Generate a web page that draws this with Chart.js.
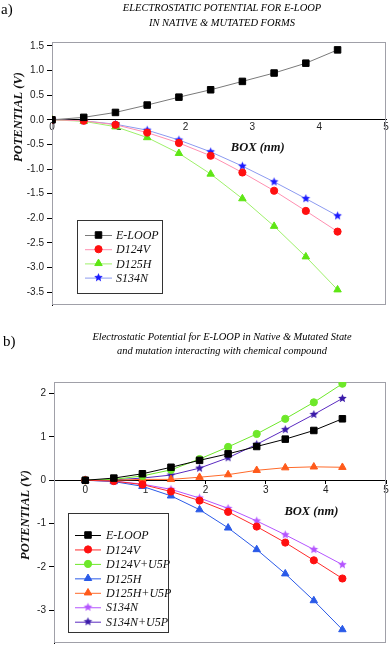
<!DOCTYPE html>
<html>
<head>
<meta charset="utf-8">
<script src="https://cdn.jsdelivr.net/npm/chart.js@4.4.1/dist/chart.umd.min.js"></script>
<style>
  body { margin: 0; width: 392px; height: 645px; position: relative; background: #fff; overflow: hidden; }
  .box { position: absolute; left: 0; width: 392px; }
  .tag { position: absolute; font-family: "Liberation Serif", serif; font-size: 15px; z-index: 2; }
  .ttl { position: absolute; font-family: "Liberation Serif", serif; font-style: italic; text-align: center; z-index: 2; white-space: nowrap; }
</style>
</head>
<body>
<div class="tag" style="left:1px;top:1px">a)</div>
<div class="ttl" style="left:52px;width:340px;top:0px;font-size:10.5px;line-height:15px">ELECTROSTATIC POTENTIAL FOR E-LOOP<br>IN NATIVE &amp; MUTATED FORMS</div>
<div class="box" style="top:0;height:314px"><canvas id="chartA"></canvas></div>

<div class="tag" style="left:3px;top:333px">b)</div>
<div class="ttl" style="left:52px;width:340px;top:330px;font-size:10.4px;line-height:14px">Electrostatic Potential for E-LOOP in Native &amp; Mutated State<br>and mutation interacting with chemical compound</div>
<div class="box" style="top:325px;height:327px"><canvas id="chartB"></canvas></div>

<script>
// Box length (nm) sampled along the E-loop
const xBox = [0, 0.475, 0.95, 1.425, 1.9, 2.375, 2.85, 3.325, 3.8, 4.275];

// Potential (V)
const eLoop    = [0, 0.05, 0.15, 0.30, 0.46, 0.61, 0.78, 0.95, 1.15, 1.42];
const d124v    = [0, -0.02, -0.10, -0.26, -0.47, -0.73, -1.07, -1.44, -1.85, -2.27];
const d125h    = [0, -0.03, -0.14, -0.36, -0.68, -1.10, -1.60, -2.16, -2.78, -3.45];
const s134n    = [0, -0.02, -0.09, -0.21, -0.41, -0.65, -0.94, -1.26, -1.60, -1.95];
const d124vU5p = [0, 0.02, 0.10, 0.24, 0.49, 0.77, 1.07, 1.42, 1.80, 2.23];
const d125hU5p = [0, 0.00, 0.02, 0.02, 0.07, 0.13, 0.23, 0.29, 0.31, 0.30];
const s134nU5p = [0, 0.01, 0.05, 0.12, 0.28, 0.52, 0.83, 1.17, 1.52, 1.89];

// Tick labels
const xTicks = [0, 1, 2, 3, 4, 5];
const yTicksA = [1.5, 1.0, 0.5, 0.0, -0.5, -1.0, -1.5, -2.0, -2.5, -3.0, -3.5];
const yTicksB = [2, 1, 0, -1, -2, -3];

const tickFont = { family: 'Liberation Sans', size: 10 };
const axisTitleFont = 'italic bold 12.5px "Liberation Serif"';
const legendFont = 'italic 12px "Liberation Serif"';

function points(values) {
  return xBox.map((x, i) => ({ x: x, y: values[i] }));
}

// filled five-point star used as a marker
function starImage(color, r) {
  const c = document.createElement('canvas');
  const s = Math.ceil(r * 2 + 2);
  c.width = s;
  c.height = s;
  const g = c.getContext('2d');
  g.beginPath();
  for (let i = 0; i < 10; i++) {
    const rad = i % 2 === 0 ? r : r * 0.45;
    const a = -Math.PI / 2 + (i * Math.PI) / 5;
    g.lineTo(s / 2 + rad * Math.cos(a), s / 2 + rad * Math.sin(a));
  }
  g.closePath();
  g.fillStyle = color;
  g.fill();
  return c;
}

function series(label, values, line, mark, style, radius) {
  return {
    label: label,
    data: points(values),
    borderColor: line,
    borderWidth: 1,
    backgroundColor: mark,
    pointBackgroundColor: mark,
    pointBorderColor: mark,
    pointBorderWidth: 1,
    pointStyle: style,
    pointRadius: radius,
    tension: 0,
  };
}

// frame, axis titles and boxed legend drawn inside the plot
const decorPlugin = {
  id: 'decor',
  beforeDatasetsDraw(chart) {
    const a = chart.chartArea;
    const ctx = chart.ctx;
    ctx.save();
    ctx.strokeStyle = '#a0a0a8';
    ctx.lineWidth = 1;
    ctx.strokeRect(a.left + 0.5, a.top + 0.5, a.right - a.left - 1, a.bottom - a.top - 1);
    ctx.restore();
  },
  afterDraw(chart, args, opts) {
    const ctx = chart.ctx;
    const xs = chart.scales.x;
    const ys = chart.scales.y;
    ctx.save();
    ctx.fillStyle = '#111';
    ctx.font = axisTitleFont;
    ctx.textAlign = 'center';
    ctx.textBaseline = 'middle';
    ctx.fillText('BOX (nm)', xs.getPixelForValue(opts.xTitle[0]), ys.getPixelForValue(opts.xTitle[1]));
    ctx.translate(opts.yTitle[0], opts.yTitle[1]);
    ctx.rotate(-Math.PI / 2);
    ctx.fillText('POTENTIAL (V)', 0, 0);
    ctx.restore();

    const L = opts.legend;
    ctx.save();
    ctx.fillStyle = '#fff';
    ctx.fillRect(L.x, L.y, L.w, L.h);
    ctx.strokeStyle = '#333';
    ctx.lineWidth = 1;
    ctx.strokeRect(L.x + 0.5, L.y + 0.5, L.w, L.h);
    ctx.font = legendFont;
    ctx.textBaseline = 'middle';
    chart.data.datasets.forEach((ds, i) => {
      const y = L.rowY + i * L.rowH;
      ctx.strokeStyle = ds.borderColor;
      ctx.beginPath();
      ctx.moveTo(L.lineX0, y + 0.5);
      ctx.lineTo(L.lineX1, y + 0.5);
      ctx.stroke();
      ctx.fillStyle = ds.pointBackgroundColor;
      ctx.strokeStyle = ds.pointBorderColor;
      Chart.helpers.drawPoint(ctx, {
        pointStyle: ds.pointStyle,
        radius: ds.pointRadius,
        borderWidth: 1,
        rotation: 0,
      }, (L.lineX0 + L.lineX1) / 2, y);
      ctx.fillStyle = '#111';
      ctx.fillText(ds.label, L.textX, y + 1);
    });
    ctx.restore();
  },
};

function setTicks(list) {
  return (scale) => {
    scale.ticks = list.map((v) => ({ value: v }));
  };
}

function makeChart(id, datasets, cfg) {
  const ctx = document.getElementById(id);
  return new Chart(ctx, {
    type: 'line',
    data: { datasets: datasets },
    options: {
      responsive: true,
      maintainAspectRatio: false,
      animation: false,
      layout: { padding: cfg.padding },
      plugins: {
        legend: { display: false },
        tooltip: { enabled: false },
        decor: cfg.decor,
      },
      scales: {
        x: {
          type: 'linear',
          min: cfg.xMin,
          max: 5,
          position: { y: 0 },
          border: { color: '#000', width: 1 },
          grid: { drawOnChartArea: false, drawTicks: cfg.xTickLen > 0, tickLength: cfg.xTickLen, color: '#000' },
          ticks: { font: tickFont, color: '#222', padding: cfg.xPad, maxRotation: 0, callback: (v) => String(v) },
          afterBuildTicks: setTicks(xTicks),
        },
        y: {
          type: 'linear',
          min: cfg.yMin,
          max: cfg.yMax,
          border: { color: '#000', width: 1 },
          grid: { drawOnChartArea: false, tickLength: 5, color: '#000' },
          ticks: { font: tickFont, color: '#222', padding: 3, callback: cfg.yFormat },
          afterBuildTicks: setTicks(cfg.yTicks),
          afterFit: (s) => { s.width = cfg.yWidth; },
        },
      },
    },
    plugins: [decorPlugin],
  });
}

const starBlue = starImage('#1a1aff', 4.5);
const starViolet = starImage('#b455ff', 4.5);
const starIndigo = starImage('#3a1aa8', 4.5);

makeChart('chartA', [
  series('E-LOOP', eLoop, '#7a7a7a', '#000', 'rect', 4.6),
  series('D124V', d124v, '#ff8fb0', '#ff1010', 'circle', 3.6),
  series('D125H', d125h, '#9ef06a', '#5ee614', 'triangle', 4.3),
  series('S134N', s134n, '#8c9af0', '#1a1aff', starBlue, 5),
], {
  padding: { top: 42, bottom: 6, left: 0, right: 5 },
  xMin: 0,
  xTickLen: 0,
  xPad: 1,
  yMin: -3.76,
  yMax: 1.58,
  yTicks: yTicksA,
  yWidth: 52,
  yFormat: (v) => v.toFixed(1),
  decor: {
    xTitle: [3.08, -0.57],
    yTitle: [19, 117],
    legend: { x: 77, y: 220, w: 85, h: 73, rowY: 235, rowH: 14.2, lineX0: 85, lineX1: 112, textX: 116 },
  },
});

makeChart('chartB', [
  series('E-LOOP', eLoop, '#000', '#000', 'rect', 4.6),
  series('D124V', d124v, '#ff2a2a', '#ff1010', 'circle', 3.6),
  series('D124V+U5P', d124vU5p, '#6ee82a', '#6ee82a', 'circle', 3.6),
  series('D125H', d125h, '#2a5ae8', '#2a5ae8', 'triangle', 4.3),
  series('D125H+U5P', d125hU5p, '#ff6a2a', '#ff5a1a', 'triangle', 4.3),
  series('S134N', s134n, '#b455ff', '#b455ff', starViolet, 5),
  series('S134N+U5P', s134nU5p, '#5a2ac0', '#3a1aa8', starIndigo, 5),
], {
  padding: { top: 57, bottom: 2, left: 0, right: 5 },
  xMin: -0.52,
  xTickLen: 3,
  xPad: 1,
  yMin: -3.76,
  yMax: 2.27,
  yTicks: yTicksB,
  yWidth: 54,
  yFormat: (v) => String(v),
  decor: {
    xTitle: [3.76, -0.73],
    yTitle: [26, 190],
    legend: { x: 68, y: 188, w: 100, h: 119, rowY: 210, rowH: 14.45, lineX0: 75, lineX1: 101, textX: 106 },
  },
});
</script>
</body>
</html>
